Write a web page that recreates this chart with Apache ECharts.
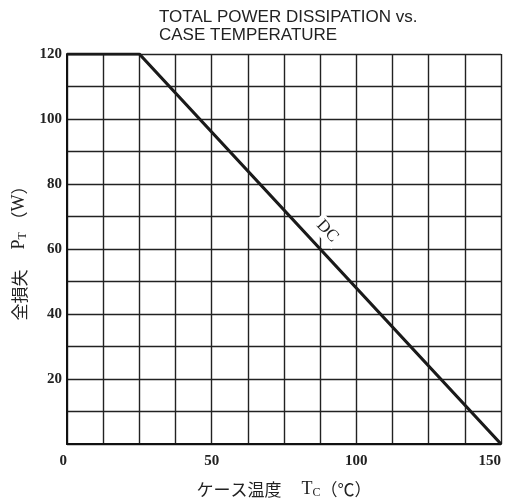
<!DOCTYPE html>
<html>
<head>
<meta charset="utf-8">
<script src="https://cdn.jsdelivr.net/npm/echarts@6/dist/echarts.min.js"></script>
<style>html,body{margin:0;padding:0;background:#fff;}#c{width:513px;height:504px;}</style>
</head>
<body>
<div id="c"></div>
<script>
// Data
const caseTemp = [0, 25, 150];          // Tc (°C)
const powerDissipation = [120, 120, 0]; // PT (W)
const xTicks = [0, 50, 100, 150];
const yTicks = [20, 40, 60, 80, 100, 120];
const dcLabelAt = [90, 65.5];

const chart = echarts.init(document.getElementById('c'));
const serif = '"Liberation Serif", "DejaVu Serif", serif';
const cjk = '"Noto Sans CJK JP", sans-serif';

const nameRich = {
  j: { fontFamily: cjk, fontSize: 17, color: '#222' },
  g: { fontFamily: cjk, fontSize: 17, color: '#222', width: 20 },
  s: { fontFamily: serif, fontSize: 18, color: '#222' },
  sub: { fontFamily: serif, fontSize: 12, color: '#222', verticalAlign: 'bottom', padding: [7, 0, 0, 0] }
};

chart.setOption({
  animation: false,
  backgroundColor: '#fff',
  title: {
    text: 'TOTAL POWER DISSIPATION vs.\nCASE TEMPERATURE',
    left: 154, top: 3,
    textStyle: { fontFamily: '"Liberation Sans", Arial, sans-serif', fontSize: 17, fontWeight: 'normal', color: '#222', lineHeight: 18 }
  },
  grid: { left: 67, top: 54, right: 12, bottom: 59, containLabel: false },
  xAxis: {
    type: 'value', min: 0, max: 150, interval: 12.5,
    name: '{j|ケース温度}{g|}{s|T}{sub|C}{j|（℃）}',
    nameLocation: 'middle', nameGap: 36,
    nameTextStyle: { rich: nameRich },
    axisLine: { show: true, lineStyle: { color: '#111', width: 2 } },
    axisTick: { show: false },
    splitLine: { show: true, lineStyle: { color: '#222', width: 1.4 } },
    axisLabel: {
      margin: 10,
      fontFamily: serif, fontWeight: 'bold', fontSize: 15, color: '#222',
      alignMinLabel: 'right', alignMaxLabel: 'right',
      formatter: v => xTicks.includes(v) ? String(v) : ''
    }
  },
  yAxis: {
    type: 'value', min: 0, max: 120, interval: 10,
    name: '{j|全損失}{g|}{s|P}{sub|T}{j| （}{s|W}{j|）}',
    nameLocation: 'middle', nameGap: 38,
    nameTextStyle: { rich: nameRich },
    axisLine: { show: true, lineStyle: { color: '#111', width: 2 } },
    axisTick: { show: false },
    splitLine: { show: true, lineStyle: { color: '#222', width: 1.4 } },
    axisLabel: {
      margin: 5,
      fontFamily: serif, fontWeight: 'bold', fontSize: 15, color: '#222',
      formatter: v => yTicks.includes(v) ? String(v) : ''
    }
  },
  series: [{
    type: 'line',
    data: caseTemp.map((x, i) => [x, powerDissipation[i]]),
    symbol: 'none',
    lineStyle: { color: '#1a1a1a', width: 3.2 },
    z: 5,
    markPoint: {
      symbol: 'circle', symbolSize: 0,
      data: [{ coord: dcLabelAt, value: 'DC' }],
      label: {
        show: true, formatter: 'DC', position: 'inside', rotate: -47,
        fontFamily: serif, fontSize: 17, color: '#222',
        backgroundColor: '#fff', padding: [1, 4]
      }
    }
  }]
});
</script>
</body>
</html>
